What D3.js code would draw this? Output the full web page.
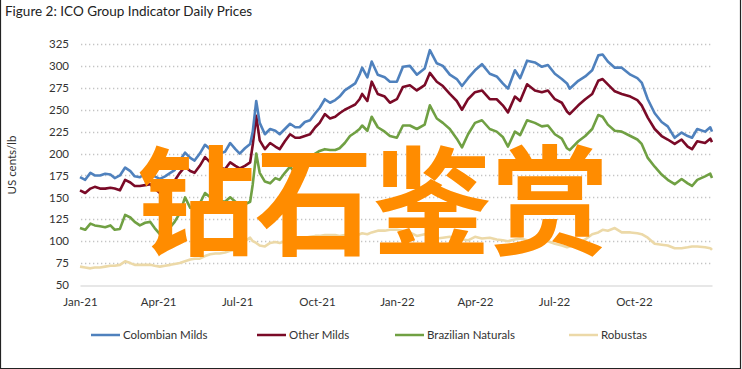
<!DOCTYPE html>
<html>
<head>
<meta charset="utf-8">
<script src="https://cdn.jsdelivr.net/npm/d3@7"></script>
<style>
  body { margin: 0; background: #fff; }
  svg { display: block; font-family: Lato, "Open Sans", sans-serif; }
</style>
</head>
<body>
<svg id="chart" width="742" height="369"></svg>
<script>
// Data (US cents/lb)
const dates = [
  "2021-01-01","2021-01-07","2021-01-13","2021-01-18","2021-01-24","2021-01-30","2021-02-05","2021-02-10",
  "2021-02-16","2021-02-22","2021-02-28","2021-03-05","2021-03-11","2021-03-17","2021-03-23","2021-03-28",
  "2021-04-03","2021-04-09","2021-04-15","2021-04-20","2021-04-26","2021-05-02","2021-05-08","2021-05-13",
  "2021-05-19","2021-05-25","2021-05-31","2021-06-06","2021-06-11","2021-06-17","2021-06-23","2021-06-29",
  "2021-07-04","2021-07-10","2021-07-16","2021-07-19","2021-07-23","2021-07-27","2021-08-02","2021-08-08",
  "2021-08-14","2021-08-19","2021-08-25","2021-08-31","2021-09-06","2021-09-11","2021-09-17","2021-09-23",
  "2021-09-29","2021-10-04","2021-10-10","2021-10-16","2021-10-22","2021-10-27","2021-11-02","2021-11-08",
  "2021-11-14","2021-11-19","2021-11-22","2021-11-28","2021-12-03","2021-12-10","2021-12-18","2021-12-24",
  "2022-01-01","2022-01-08","2022-01-16","2022-01-24","2022-02-02","2022-02-08","2022-02-16","2022-02-23",
  "2022-03-03","2022-03-11","2022-03-17","2022-03-24","2022-04-01","2022-04-09","2022-04-18","2022-04-26",
  "2022-05-03","2022-05-09","2022-05-17","2022-05-23","2022-05-31","2022-06-09","2022-06-17","2022-06-24",
  "2022-07-02","2022-07-10","2022-07-16","2022-07-19","2022-07-29","2022-08-06","2022-08-14","2022-08-21",
  "2022-08-26","2022-09-01","2022-09-09","2022-09-17","2022-09-27","2022-10-05","2022-10-10","2022-10-17",
  "2022-10-25","2022-11-02","2022-11-09","2022-11-17","2022-11-25","2022-12-02","2022-12-07","2022-12-13",
  "2022-12-22","2022-12-28","2022-12-30"
];

const colombianMilds = [
  173,170,178,175,175,177,176,172,175,184,180,174,173,177,179,174,
  171,174,178,181,192,201,195,192,200,210,205,207,200,202,212,205,
  200,206,211,225,260,235,222,228,226,222,228,234,230,230,236,238,
  246,252,262,258,261,265,272,276,280,290,298,287,305,290,287,282,
  282,299,300,290,297,318,303,300,290,285,277,286,295,302,291,288,
  280,274,295,286,306,304,299,301,291,285,280,274,283,288,295,312,
  313,305,298,298,290,286,281,262,246,236,231,218,224,220,218,228,
  225,230,225
];

const otherMilds = [
  158,155,160,162,160,160,161,160,158,170,167,163,163,164,165,160,
  155,160,165,169,178,185,180,178,186,196,190,188,184,182,190,186,
  183,186,190,210,243,215,205,212,208,205,214,222,218,218,220,222,
  230,235,245,240,242,246,250,253,256,262,268,260,282,268,265,258,
  262,276,278,272,278,292,282,277,268,260,250,262,270,272,262,262,
  255,247,265,260,279,272,270,272,262,258,248,245,255,262,268,283,
  285,279,271,268,265,261,255,241,228,220,216,211,216,208,205,214,
  212,217,213
];

const brazilianNaturals = [
  115,113,120,118,117,116,118,113,114,130,127,122,118,121,122,115,
  108,112,116,122,132,150,138,140,143,155,150,148,146,145,150,145,
  140,142,145,165,200,178,168,166,172,170,178,185,178,175,186,195,
  200,203,205,204,204,206,212,220,224,228,232,226,242,230,225,220,
  218,232,232,228,233,255,240,235,228,217,207,222,235,238,228,225,
  219,208,225,221,238,235,231,232,222,217,206,204,214,220,228,244,
  242,233,226,225,220,216,211,195,185,176,170,165,171,166,163,170,
  174,177,172
];

const robustas = [
  71,70,69,70,70,71,72,72,73,77,75,73,73,73,73,72,
  71,72,73,74,75,77,79,80,80,83,85,86,86,87,89,90,
  91,100,104,100,98,95,94,98,99,98,100,102,103,104,104,105,
  106,106,107,107,107,106,107,106,106,108,109,108,110,112,112,113,
  113,112,110,106,108,106,103,104,105,103,102,101,105,103,104,102,
  101,100,102,103,101,100,102,100,97,95,93,94,97,102,108,110,
  113,112,115,110,110,109,108,104,97,96,95,92,92,93,94,94,
  93,92,90
];

const seriesNames = ["Colombian Milds", "Other Milds", "Brazilian Naturals", "Robustas"];
const seriesColors = ["#4f81bd", "#7a0a27", "#70a043", "#ecd9a8"];
const yTicks = [50, 75, 100, 125, 150, 175, 200, 225, 250, 275, 300, 325];
const xTickDates = ["2021-01-01","2021-04-01","2021-07-01","2021-10-01","2022-01-01","2022-04-01","2022-07-01","2022-10-01"];

const parse = d3.timeParse("%Y-%m-%d");
const svg = d3.select("#chart");

// frame
svg.append("path")
  .attr("d", "M0.5,0 V368.5 H740.5 V0")
  .attr("fill", "none")
  .attr("stroke", "#222")
  .attr("stroke-width", 1.2);

svg.append("text")
  .attr("x", 5).attr("y", 16)
  .attr("font-size", 13.5).attr("fill", "#222")
  .text("Figure 2: ICO Group Indicator Daily Prices");

const x = d3.scaleTime()
  .domain([parse("2021-01-01"), parse("2022-12-30")])
  .range([80, 712]);

const y = d3.scaleLinear()
  .domain([50, 325])
  .range([285, 44]);

// gridlines
svg.append("g")
  .selectAll("line")
  .data(yTicks.slice(1))
  .join("line")
  .attr("x1", 81).attr("x2", 712)
  .attr("y1", d => Math.round(y(d)) + 0.5).attr("y2", d => Math.round(y(d)) + 0.5)
  .attr("stroke", "#c4c4c4")
  .attr("stroke-width", 1.3)
  .attr("stroke-dasharray", "1.3,2.7");

// y axis labels
const yAxis = svg.append("g")
  .attr("transform", "translate(69,0)")
  .call(d3.axisLeft(y).tickValues(yTicks).tickSize(0).tickPadding(0));
yAxis.select(".domain").remove();
yAxis.selectAll("text")
  .attr("font-family", "Lato, sans-serif")
  .attr("font-size", 11.5).attr("fill", "#333");

svg.append("text")
  .attr("transform", "translate(16,165) rotate(-90)")
  .attr("text-anchor", "middle")
  .attr("font-size", 11.5).attr("fill", "#333")
  .text("US cents/lb");

// x axis
const xAxis = svg.append("g")
  .attr("transform", "translate(0,285.5)")
  .call(d3.axisBottom(x)
    .tickValues(xTickDates.map(parse))
    .tickFormat(d3.timeFormat("%b-%y"))
    .tickSize(0).tickPadding(12));
xAxis.select(".domain")
  .attr("stroke", "#cfcfcf").attr("stroke-width", 1.2);
xAxis.selectAll("text")
  .attr("font-family", "Lato, sans-serif")
  .attr("font-size", 11.5).attr("fill", "#333");

// lines
const allSeries = [colombianMilds, otherMilds, brazilianNaturals, robustas];
const line = d3.line()
  .x((d, i) => x(parse(dates[i])))
  .y(d => y(d));

svg.append("g")
  .selectAll("path")
  .data(allSeries.slice().reverse())
  .join("path")
  .attr("d", line)
  .attr("fill", "none")
  .attr("stroke", (d, i) => seriesColors[3 - i])
  .attr("stroke-width", 2.6)
  .attr("stroke-linejoin", "round");

// legend
const legendX = [91, 257, 395, 569];
const legend = svg.append("g").attr("transform", "translate(0,335)");
const item = legend.selectAll("g")
  .data(seriesNames)
  .join("g")
  .attr("transform", (d, i) => `translate(${legendX[i]},0)`);
item.append("line")
  .attr("x1", 0).attr("x2", 29)
  .attr("stroke", (d, i) => seriesColors[i])
  .attr("stroke-width", 2.5);
item.append("text")
  .attr("x", 32).attr("y", 4)
  .attr("font-size", 11.5).attr("fill", "#333")
  .text(d => d);

// watermark
svg.append("text")
  .attr("x", 137).attr("y", 246)
  .attr("font-family", "'Noto Sans CJK SC', sans-serif")
  .attr("font-weight", "bold")
  .attr("font-size", 118)
  .attr("fill", "#ff8c00")
  .text("钻石鉴赏");
</script>
</body>
</html>
